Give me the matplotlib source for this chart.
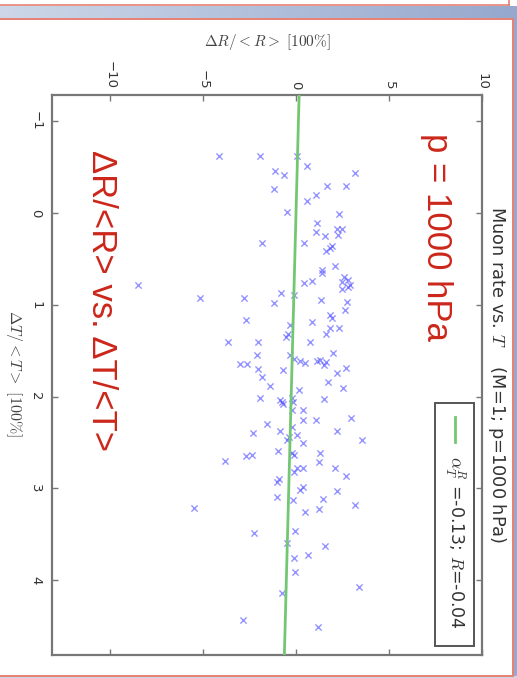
import numpy as np
import matplotlib
matplotlib.use("Agg")
import matplotlib.pyplot as plt
from matplotlib.patches import Rectangle

plt.rcParams['mathtext.fontset'] = 'cm'

# ---- data ----
delta_T = [-0.62, -0.62, -0.62, -0.51, -0.46, -0.41, -0.44, -0.26, -0.29, -0.29,
           -0.20, -0.13, -0.01, 0.01, 0.11, 0.21, 0.17, 0.17, 0.24, 0.25,
           0.33, 0.33, 0.36, 0.41, 0.38, 0.58, 0.62, 0.65, 0.70, 0.73,
           0.75, 0.74, 0.76, 0.78, 0.83, 0.81, 0.87, 0.89, 0.78, 0.93,
           0.93, 0.98, 0.95, 0.97, 1.06, 1.11, 1.14, 1.19, 1.22, 1.17,
           1.25, 1.25, 1.32, 1.35, 1.32, 1.41, 1.41, 1.41, 1.53, 1.55,
           1.55, 1.59, 1.61, 1.63, 1.61, 1.60, 1.62, 1.66, 1.70, 1.71,
           1.69, 1.74, 1.79, 1.84, 1.88, 1.91, 1.93, 1.64, 1.64, 2.02,
           2.04, 2.06, 2.08, 2.03, 2.02, 2.06, 2.15, 2.15, 2.25, 2.25,
           2.23, 2.37, 2.40, 2.37, 2.47, 2.44, 2.33, 2.42, 2.51, 2.47,
           2.59, 2.61, 2.64, 2.61, 2.64, 2.65, 2.70, 2.78, 2.78, 2.82,
           2.71, 2.78, 2.86, 2.93, 2.90, 3.02, 2.98, 3.03, 3.09, 3.13,
           3.12, 3.26, 3.22, 3.18, 3.49, 3.46, 3.59, 3.63, 3.73, 3.76,
           3.91, 4.07, 4.14, 4.51, 3.21, 4.43, 2.30]
delta_R = [-4.14, -1.94, 0.05, 0.59, -1.13, -0.65, 3.17, -1.18, 1.67, 2.69,
           1.08, 0.59, -0.48, 2.31, 1.13, 1.08, 2.20, 2.47, 2.26, 1.56,
           -1.83, 0.43, 1.94, 1.61, 1.83, 2.10, 1.40, 1.40, 2.58, 2.80,
           2.47, 0.86, 0.43, 2.90, 2.47, 2.80, -0.81, -0.11, -8.49, -5.16,
           -2.80, -1.18, 1.34, 2.74, 2.63, 1.83, 1.94, 0.86, -0.32, -2.69,
           1.83, 2.31, 1.61, -0.54, -0.43, 0.75, -2.04, -3.66, 1.99, -2.10,
           -0.32, -0.11, 0.22, 0.48, 1.13, 1.29, 1.61, 1.51, -2.04, -0.70,
           2.69, 2.20, -1.83, 1.72, -1.40, 2.53, 0.16, -3.01, -2.63, -1.94,
           -0.86, -0.75, -0.70, 1.51, -0.22, -0.16, -0.22, 0.38, 0.38, 1.08,
           2.96, 2.20, -2.31, -0.86, -0.48, -0.38, -0.22, 0.05, 0.38, 3.55,
           -0.97, -0.22, -0.11, 1.29, -2.37, -2.69, -3.82, 0.05, 0.38, -0.11,
           1.24, 2.10, 2.69, -1.02, -0.91, 0.22, 0.38, 2.20, -1.02, -0.16,
           1.45, 0.48, 1.24, 3.17, -2.26, -0.05, -0.48, 1.56, 0.65, -0.11,
           -0.05, 3.39, -0.75, 1.18, -5.48, -2.85, -1.56]
fit_slope = -0.13
fit_intercept = 0.0
fit_T = [-1.285, 4.815]
R_ticks = [-10, -5, 0, 5, 10]
T_ticks = [-1, 0, 1, 2, 3, 4]
R_lim = (-13.12, 10.0)
T_lim = (4.815, -1.285)

title_txt = "Muon rate vs. $T$    (M=1; p=1000 hPa)"
legend_txt = r"$\alpha_T^R$ =-0.13; $R$=-0.04"
red1 = "p = 1000 hPa"
red2 = "ΔR/<R> vs. ΔT/<T>"

W, H = 517, 678
fig = plt.figure(figsize=(W / 100, H / 100), dpi=100)
fig.patch.set_facecolor('white')

# ---- slide frame decoration ----
bg = fig.add_axes([0, 0, 1, 1], zorder=0)
bg.set_xlim(0, W)
bg.set_ylim(H, 0)
bg.axis('off')
grad = np.linspace(0, 1, 256)[None, :]
c0 = np.array([205, 215, 232]) / 255
c1 = np.array([150, 168, 205]) / 255
img = c0[None, None, :] * (1 - grad[..., None]) + c1[None, None, :] * grad[..., None]
bg.imshow(img, extent=(0, W, 18, 6), aspect='auto', zorder=1)
bg.imshow(img[:, ::-1][:, :1].repeat(4, axis=1), extent=(513, W, H, 6), aspect='auto', zorder=1)
bg.add_patch(Rectangle((0, 676), W, 2, color=(0.80, 0.84, 0.91), zorder=1))
pink = (0.90, 0.50, 0.45)
bg.plot([0, 509], [5, 5], color=pink, lw=1.2, zorder=2)
bg.plot([509, 509], [0, 5], color=pink, lw=1.2, zorder=2)
bg.plot([0, 512.5], [18.5, 18.5], color=pink, lw=1.4, zorder=2)
bg.plot([512.5, 512.5], [18.5, 675.5], color=pink, lw=1.4, zorder=2)
bg.plot([0, 512.5], [675.5, 675.5], color=pink, lw=1.4, zorder=2)

# ---- main axes (rotated layout) ----
ax = fig.add_axes([52 / W, 1 - 655 / H, 430 / W, 560 / H], zorder=2)
ax.set_facecolor('white')
ax.scatter(delta_R, delta_T, marker='x', s=20, linewidths=1.0,
           color=(0.30, 0.30, 1.0), alpha=0.6, zorder=3)
fit_R = [fit_intercept + fit_slope * t for t in fit_T]
ax.plot(fit_R, fit_T, color=(0.45, 0.78, 0.45), lw=2.0, zorder=4)
ax.set_xlim(*R_lim)
ax.set_ylim(*T_lim)
ax.set_xticks(R_ticks)
ax.set_yticks(T_ticks)
ax.set_xticklabels([f"{v}".replace('-', '\u2212') for v in R_ticks])
ax.set_yticklabels([f"{v}".replace('-', '\u2212') for v in T_ticks])
gray = '#777777'
for sp in ax.spines.values():
    sp.set_color(gray)
    sp.set_linewidth(1.6)
ax.tick_params(axis='both', direction='in', length=4, width=1, color=gray,
               top=True, right=True, bottom=True, left=True,
               labelsize=9.5, labelcolor='#333333')
ax.tick_params(axis='x', labeltop=True, labelbottom=False, pad=4)
ax.tick_params(axis='y', pad=7)
for lab in ax.get_xticklabels() + ax.get_yticklabels():
    lab.set_rotation(-90)
for lab in ax.get_yticklabels():
    lab.set_va('center')

# legend drawn in rotated form
ax.add_patch(Rectangle((0.891, 0.016), 0.090, 0.434, transform=ax.transAxes,
                       facecolor='white', edgecolor='#555555', lw=1.4, zorder=5))
ax.plot([0.937, 0.937], [0.425, 0.380], transform=ax.transAxes,
        color=(0.45, 0.78, 0.45), lw=2.0, zorder=6)
ax.text(0.937, 0.355, legend_txt, transform=ax.transAxes, rotation=-90,
        ha='center', va='top', fontsize=12.5, color='#333333', zorder=6)

# red annotations
ax.text((437 - 52) / 430, (655 - 237) / 560, red1, transform=ax.transAxes,
        rotation=-90, ha='center', va='center', fontsize=25,
        family='Liberation Sans', color=(0.80, 0.15, 0.10), zorder=6)
ax.text((101 - 52) / 430, (655 - 301) / 560, red2, transform=ax.transAxes,
        rotation=-90, ha='center', va='center', fontsize=25,
        family='Liberation Sans', color=(0.80, 0.15, 0.10), zorder=6)

# title and axis labels (rotated)
fig.text(497 / W, 1 - 375 / H, title_txt, rotation=-90, ha='center', va='center',
         fontsize=12.8, color='#333333')
fig.text(267 / W, 1 - 42 / H, r"$\Delta R/<R>\ \mathrm{[100\%]}$", rotation=0,
         ha='center', va='center', fontsize=11, color='#444444')
fig.text(14 / W, 1 - 373 / H, r"$\Delta T/<T>\ \mathrm{[100\%]}$", rotation=-90,
         ha='center', va='center', fontsize=11.5, color='#444444')

fig.savefig("out.png", dpi=100)
